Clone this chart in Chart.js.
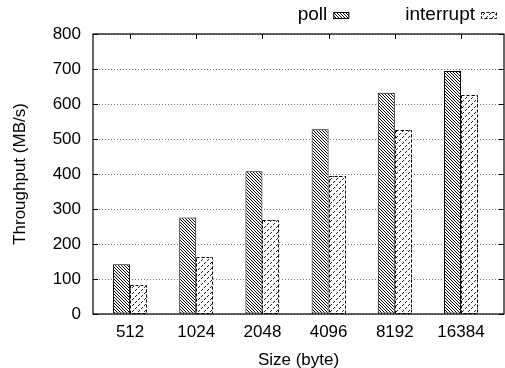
<!DOCTYPE html>
<html>
<head>
<meta charset="utf-8">
<script src="https://cdn.jsdelivr.net/npm/chart.js@4/dist/chart.umd.min.js"></script>
<style>
html, body { margin: 0; padding: 0; background: #fff; }
canvas { display: block; }
</style>
</head>
<body>
<canvas id="tputChart" width="505" height="368"></canvas>
<script>
const sizes = ['512', '1024', '2048', '4096', '8192', '16384'];
const pollValues = [142, 276, 408, 528, 632, 694];
const interruptValues = [82, 162, 268, 394, 526, 625];
const seriesNames = ['poll', 'interrupt'];
const yMax = 800;
const yStep = 100;

const FONT = 'Liberation Sans, Arial, Helvetica, sans-serif';

// hatch fills, like the gnuplot fill patterns
function makePattern(size, draw) {
    const c = document.createElement('canvas');
    c.width = c.height = size;
    const g = c.getContext('2d');
    g.fillStyle = '#fff';
    g.fillRect(0, 0, size, size);
    draw(g, size);
    return g.createPattern(c, 'repeat');
}

const pollFill = makePattern(3, (g, n) => {
    g.fillStyle = '#000';
    for (let i = 0; i < n; i++) g.fillRect(i, i, 1, 1); // "\" lines
});

const interruptFill = makePattern(12, (g, n) => {
    g.fillStyle = '#222';
    for (let x = 0; x < n; x++) {
        for (let y = 0; y < n; y++) {
            if ((x + y) % 6 === 5 && x % 3 !== 2) g.fillRect(x, y, 1, 1); // dashed "/" lines
        }
    }
});

const toPoints = values => values.map((v, i) => ({ x: i, y: v }));

// inward ticks, dashed outlines, border box and the legend (text first, then sample)
const gnuplotLook = {
    id: 'gnuplotLook',
    beforeDatasetsDraw(chart) {
        const { ctx, chartArea: a, scales: { x, y } } = chart;
        ctx.save();
        ctx.strokeStyle = '#000';
        ctx.lineWidth = 1;
        ctx.beginPath();
        y.ticks.forEach(t => {
            const py = Math.round(y.getPixelForValue(t.value)) + 0.5;
            ctx.moveTo(a.left, py); ctx.lineTo(a.left + 5, py);
            ctx.moveTo(a.right, py); ctx.lineTo(a.right - 5, py);
        });
        x.ticks.forEach(t => {
            const px = Math.round(x.getPixelForValue(t.value)) + 0.5;
            ctx.moveTo(px, a.top); ctx.lineTo(px, a.top + 5);
            ctx.moveTo(px, a.bottom); ctx.lineTo(px, a.bottom - 5);
        });
        ctx.stroke();
        ctx.restore();
    },
    afterDatasetsDraw(chart) {
        const { ctx, chartArea: a } = chart;
        ctx.save();
        chart.data.datasets.forEach((ds, i) => {
            if (!ds.dashedBorder) return;
            chart.getDatasetMeta(i).data.forEach(bar => {
                const p = bar.getProps(['x', 'y', 'base', 'width'], true);
                const l = Math.round(p.x - p.width / 2) + 0.5;
                const r = Math.round(p.x + p.width / 2) - 0.5;
                const t = Math.round(p.y) + 0.5;
                ctx.strokeStyle = '#000';
                ctx.lineWidth = 1;
                ctx.setLineDash([3, 2]);
                ctx.strokeRect(l, t, r - l, p.base - t);
            });
        });
        ctx.setLineDash([]);
        ctx.strokeStyle = '#000';
        ctx.lineWidth = 1.2;
        ctx.strokeRect(a.left, a.top, a.right - a.left, a.bottom - a.top);
        ctx.restore();
    },
    afterDraw(chart) {
        const { ctx } = chart;
        const sets = chart.data.datasets;
        ctx.save();
        ctx.font = '19px ' + FONT;
        ctx.textBaseline = 'middle';
        ctx.textAlign = 'right';
        let right = chart.width - 8;
        for (let i = sets.length - 1; i >= 0; i--) {
            const ds = sets[i];
            const bx = right - 16, by = 12;
            ctx.fillStyle = ds.backgroundColor;
            ctx.fillRect(bx, by, 16, 7);
            ctx.strokeStyle = '#000';
            ctx.lineWidth = 1;
            ctx.setLineDash(ds.dashedBorder ? [3, 2] : []);
            ctx.strokeRect(bx + 0.5, by + 0.5, 15, 6);
            ctx.setLineDash([]);
            ctx.fillStyle = '#000';
            ctx.fillText(ds.label, bx - 6, 15);
            right = bx - 6 - ctx.measureText(ds.label).width - 56;
        }
        ctx.restore();
    }
};

const ctx = document.getElementById('tputChart').getContext('2d');

new Chart(ctx, {
    type: 'bar',
    data: {
        datasets: [{
            label: seriesNames[0],
            data: toPoints(pollValues),
            backgroundColor: pollFill,
            borderColor: '#000',
            borderWidth: 1,
            borderSkipped: false
        }, {
            label: seriesNames[1],
            data: toPoints(interruptValues),
            backgroundColor: interruptFill,
            borderWidth: 0,
            dashedBorder: true
        }]
    },
    options: {
        responsive: false,
        animation: false,
        categoryPercentage: 0.514,
        barPercentage: 1,
        layout: { padding: { top: 34, right: 1, left: 0, bottom: 0 } },
        scales: {
            x: {
                type: 'linear',
                offset: false,
                min: -0.56,
                max: 5.65,
                afterFit: s => { s.height = 54; },
                grid: { display: false, offset: false },
                border: { display: false },
                ticks: {
                    stepSize: 1,
                    autoSkip: false,
                    includeBounds: false,
                    maxRotation: 0,
                    padding: 0,
                    color: '#000',
                    font: { size: 17, family: FONT },
                    callback: v => (Number.isInteger(v) && sizes[v] !== undefined) ? sizes[v] : ''
                },
                title: {
                    display: true,
                    text: 'Size (byte)',
                    color: '#000',
                    padding: { top: 0, bottom: -3 },
                    font: { size: 17, family: FONT }
                }
            },
            y: {
                min: 0,
                max: yMax,
                afterFit: s => { s.width = 93; },
                grid: { color: '#777', lineWidth: 1, drawTicks: false },
                border: { display: false, dash: [1, 2] },
                ticks: {
                    stepSize: yStep,
                    padding: 12,
                    color: '#000',
                    font: { size: 17, family: FONT }
                },
                title: {
                    display: true,
                    text: 'Throughput (MB/s)',
                    color: '#000',
                    padding: { top: 10, bottom: 0 },
                    font: { size: 17, family: FONT }
                }
            }
        },
        plugins: {
            legend: { display: false },
            tooltip: { enabled: false }
        }
    },
    plugins: [gnuplotLook]
});
</script>
</body>
</html>
